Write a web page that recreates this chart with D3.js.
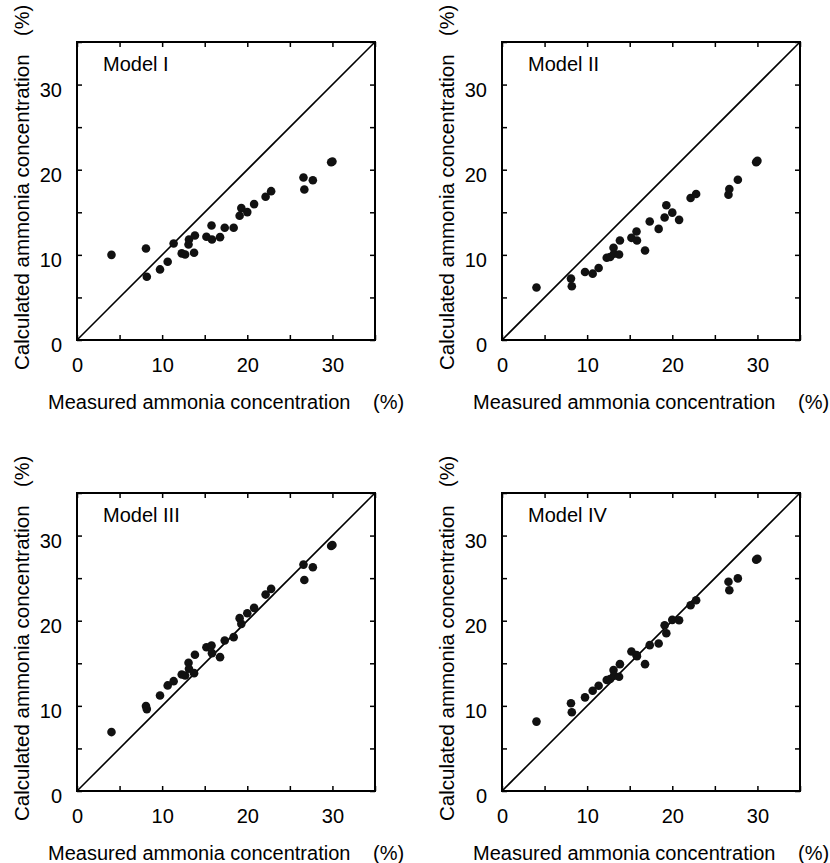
<!DOCTYPE html>
<html>
<head>
<meta charset="utf-8">
<script src="https://cdn.jsdelivr.net/npm/d3@7"></script>
<style>
  body { margin: 0; background: #fff; }
  text { font-family: "Liberation Sans", Arial, Helvetica, sans-serif; fill: #000; }
</style>
</head>
<body>
<svg id="chart" width="830" height="863"></svg>
<script>
// measured ammonia concentration (%), same runs for every model
var measured = [4.05, 8.1, 8.2, 9.75, 10.65, 11.35, 12.3, 12.7, 13.1, 13.15, 13.85, 13.75,
	15.2, 15.8, 15.85, 16.8, 17.35, 18.4, 19.1, 19.3, 20.0, 20.8, 22.15, 22.8,
	26.6, 26.7, 27.7, 29.85, 30.0];

var modelI = [10.0, 10.75, 7.43, 8.29, 9.19, 11.34, 10.17, 10.05, 11.22, 11.81, 12.28, 10.25,
	12.12, 13.45, 11.81, 12.08, 13.18, 13.18, 14.59, 15.49, 15.02, 15.96, 16.82, 17.48,
	19.08, 17.68, 18.77, 20.88, 20.96];
var modelII = [6.16, 7.21, 6.31, 7.99, 7.79, 8.46, 9.66, 9.74, 10.83, 10.13, 11.69, 10.05,
	12.0, 12.74, 11.69, 10.52, 13.91, 13.05, 14.38, 15.82, 14.96, 14.11, 16.68, 17.15,
	17.07, 17.73, 18.82, 20.89, 21.04];
var modelIII = [6.92, 9.97, 9.62, 11.22, 12.4, 12.9, 13.69, 13.57, 15.06, 14.35, 16.0, 13.84,
	16.89, 17.09, 16.19, 15.72, 17.68, 18.07, 20.3, 19.63, 20.88, 21.51, 23.07, 23.74,
	26.59, 24.79, 26.28, 28.78, 28.9];
var modelIV = [8.15, 10.3, 9.25, 11.0, 11.78, 12.37, 13.03, 13.15, 14.2, 13.54, 14.9, 13.42,
	16.39, 15.96, 15.84, 14.9, 17.13, 17.32, 19.47, 18.53, 20.1, 20.06, 21.81, 22.4,
	24.58, 23.57, 24.97, 27.16, 27.27];

var modelNames = ["Model I", "Model II", "Model III", "Model IV"];
var tickValues = [0, 5, 10, 15, 20, 25, 30, 35];
var tickLabels = [0, 10, 20, 30];

var svg = d3.select("#chart"),
	size = 298,
	lefts = [77, 502],
	tops = [42, 493],
	calc = [modelI, modelII, modelIII, modelIV];

var x = d3.scaleLinear().domain([0, 35]).range([0, size]);
var y = d3.scaleLinear().domain([0, 35]).range([size, 0]);

var fmt = function(d) { return tickLabels.indexOf(d) >= 0 ? d : ""; };

calc.forEach(function(vals, k) {
	var g = svg.append("g")
		.attr("transform", "translate(" + lefts[k % 2] + "," + tops[Math.floor(k / 2)] + ")");

	// ticks on all four sides, pointing in
	g.append("g")
		.attr("transform", "translate(0," + size + ")")
		.call(d3.axisBottom(x).tickValues(tickValues).tickSizeInner(-5).tickSizeOuter(0).tickPadding(18).tickFormat(fmt));
	var left = g.append("g")
		.call(d3.axisLeft(y).tickValues(tickValues).tickSizeInner(-5).tickSizeOuter(0).tickPadding(15).tickFormat(fmt));
	g.append("g")
		.call(d3.axisTop(x).tickValues(tickValues).tickSizeInner(-5).tickSizeOuter(0).tickFormat(""));
	g.append("g")
		.attr("transform", "translate(" + size + ",0)")
		.call(d3.axisRight(y).tickValues(tickValues).tickSizeInner(-5).tickSizeOuter(0).tickFormat(""));

	g.selectAll(".domain").remove();
	g.selectAll(".tick line").attr("stroke", "#000").attr("stroke-width", 1.5);
	g.selectAll(".tick text").attr("font-size", 20).attr("font-family", null);
	left.selectAll(".tick text").attr("dy", "0.58em");

	g.append("rect")
		.attr("width", size)
		.attr("height", size)
		.attr("fill", "none")
		.attr("stroke", "#000")
		.attr("stroke-width", 2);

	g.append("line")
		.attr("x1", x(0)).attr("y1", y(0))
		.attr("x2", x(35)).attr("y2", y(35))
		.attr("stroke", "#000")
		.attr("stroke-width", 1.6);

	g.selectAll("circle")
		.data(measured)
		.enter().append("circle")
			.attr("cx", function(d) { return x(d); })
			.attr("cy", function(d, i) { return y(vals[i]); })
			.attr("r", 4.3)
			.attr("fill", "#111");

	g.append("text")
		.attr("x", 26)
		.attr("y", 29)
		.attr("font-size", 20)
		.text(modelNames[k]);

	// x axis title
	g.append("text")
		.attr("x", -29)
		.attr("y", size + 69)
		.attr("font-size", 20)
		.text("Measured ammonia concentration");
	g.append("text")
		.attr("x", 296)
		.attr("y", size + 69)
		.attr("font-size", 20)
		.text("(%)");

	// y axis title
	g.append("text")
		.attr("transform", "translate(-48," + (size + 30) + ") rotate(-90)")
		.attr("font-size", 20.5)
		.text("Calculated ammonia concentration");
	g.append("text")
		.attr("transform", "translate(-48," + (size - 304) + ") rotate(-90)")
		.attr("font-size", 20)
		.text("(%)");
});
</script>
</body>
</html>
